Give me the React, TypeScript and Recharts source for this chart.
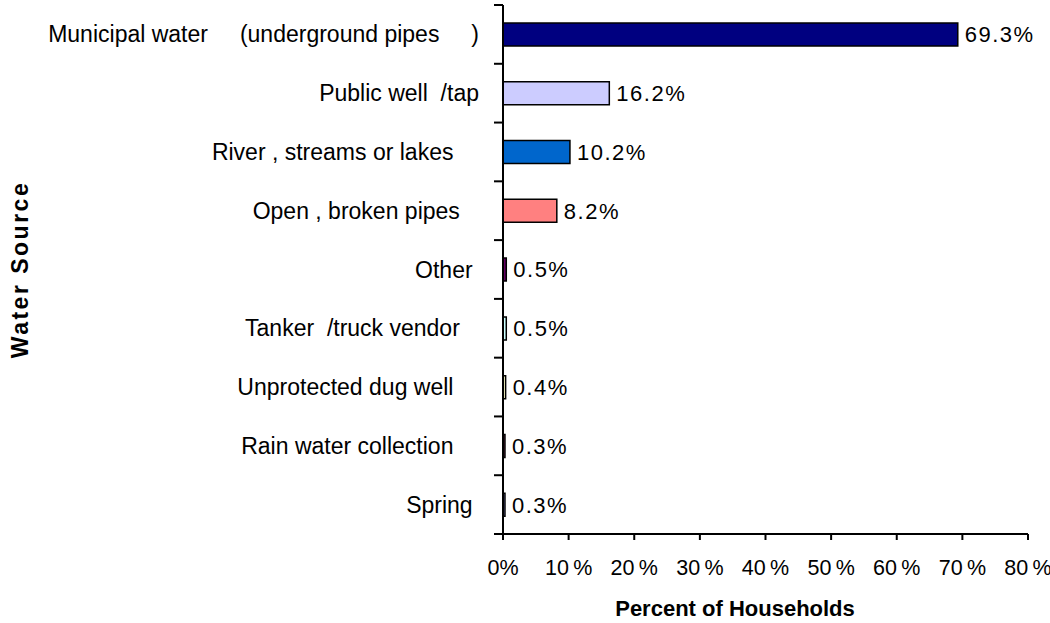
import { Bar, BarChart, Cell, LabelList, XAxis, YAxis } from 'recharts';

// labels keep the odd spacing of the original chart
const sources = [
    'Municipal water     (underground pipes     )',
    'Public well  /tap',
    'River , streams or lakes    ',
    'Open , broken pipes   ',
    'Other ',
    'Tanker  /truck vendor   ',
    'Unprotected dug well    ',
    'Rain water collection    ',
    'Spring ',
];
const percents = [69.3, 16.2, 10.2, 8.2, 0.5, 0.5, 0.4, 0.3, 0.3];
const colors = ['#000080', '#CCCCFF', '#0066CC', '#FF8080', '#660066', '#CCFFFF', '#FFFFCC', '#993366', '#9999FF'];
const xTicks = [0, 10, 20, 30, 40, 50, 60, 70, 80];

const data = sources.map((name, i) => ({ name, value: percents[i] }));

const FONT = '"Liberation Sans", Arial, sans-serif';
const W = 1050;
const H = 623;
const TOP = 5;
const BOTTOM = 89;
const band = (H - TOP - BOTTOM) / sources.length;

function CategoryTick(props: any) {
    const { x, y, payload, index } = props;
    const last = index === sources.length - 1;
    return (
        <g>
            <line x1={x - 9} x2={x} y1={y - band / 2} y2={y - band / 2} stroke="#000" strokeWidth={2} />
            {last && <line x1={x - 9} x2={x} y1={y + band / 2} y2={y + band / 2} stroke="#000" strokeWidth={2} />}
            <text
                x={x - 24}
                y={y}
                dy="0.35em"
                textAnchor="end"
                fontSize={23}
                fontFamily={FONT}
                fill="#000"
                style={{ whiteSpace: 'pre' }}
            >
                {payload.value}
            </text>
        </g>
    );
}

export default function App() {
    return (
        <div style={{ position: 'absolute', left: 0, top: 0 }}>
            <BarChart
                width={W}
                height={H}
                data={data}
                layout="vertical"
                margin={{ top: TOP, right: 22, bottom: 0, left: 0 }}
            >
                <XAxis
                    type="number"
                    domain={[0, 80]}
                    ticks={xTicks}
                    height={BOTTOM}
                    tickSize={6}
                    tickMargin={20}
                    axisLine={{ stroke: '#000', strokeWidth: 2 }}
                    tickLine={{ stroke: '#000', strokeWidth: 2 }}
                    tick={{ fill: '#000', fontSize: 21.5, fontFamily: FONT }}
                    tickFormatter={(v) => (v === 0 ? '0%' : `${v}\u2009%`)}
                    label={{
                        content: () => (
                            <text
                                x={735}
                                y={616}
                                textAnchor="middle"
                                fontSize={22}
                                fontWeight="bold"
                                fontFamily={FONT}
                                fill="#000"
                            >
                                Percent of Households
                            </text>
                        ),
                    }}
                />
                <YAxis
                    type="category"
                    dataKey="name"
                    width={503}
                    tickSize={0}
                    tickMargin={0}
                    axisLine={{ stroke: '#000', strokeWidth: 2 }}
                    tickLine={false}
                    tick={(p: any) => <CategoryTick {...p} />}
                    interval={0}
                    label={{
                        content: (p: any) => {
                            const cy = p.viewBox.y + p.viewBox.height / 2;
                            return (
                                <text
                                    x={28}
                                    y={cy}
                                    transform={`rotate(-90, 28, ${cy})`}
                                    textAnchor="middle"
                                    fontSize={23}
                                    fontWeight="bold"
                                    letterSpacing={2.5}
                                    fontFamily={FONT}
                                    fill="#000"
                                >
                                    Water Source
                                </text>
                            );
                        },
                    }}
                />
                <Bar dataKey="value" barSize={23} stroke="#000" strokeWidth={1.5} isAnimationActive={false}>
                    {data.map((d, i) => (
                        <Cell key={d.name} fill={colors[i]} />
                    ))}
                    <LabelList
                        dataKey="value"
                        position="right"
                        offset={7}
                        fill="#000"
                        fontSize={22}
                        fontFamily={FONT}
                        letterSpacing={1.5}
                        formatter={(v: any) => `${Number(v).toFixed(1)}%`}
                    />
                </Bar>
            </BarChart>
        </div>
    );
}
